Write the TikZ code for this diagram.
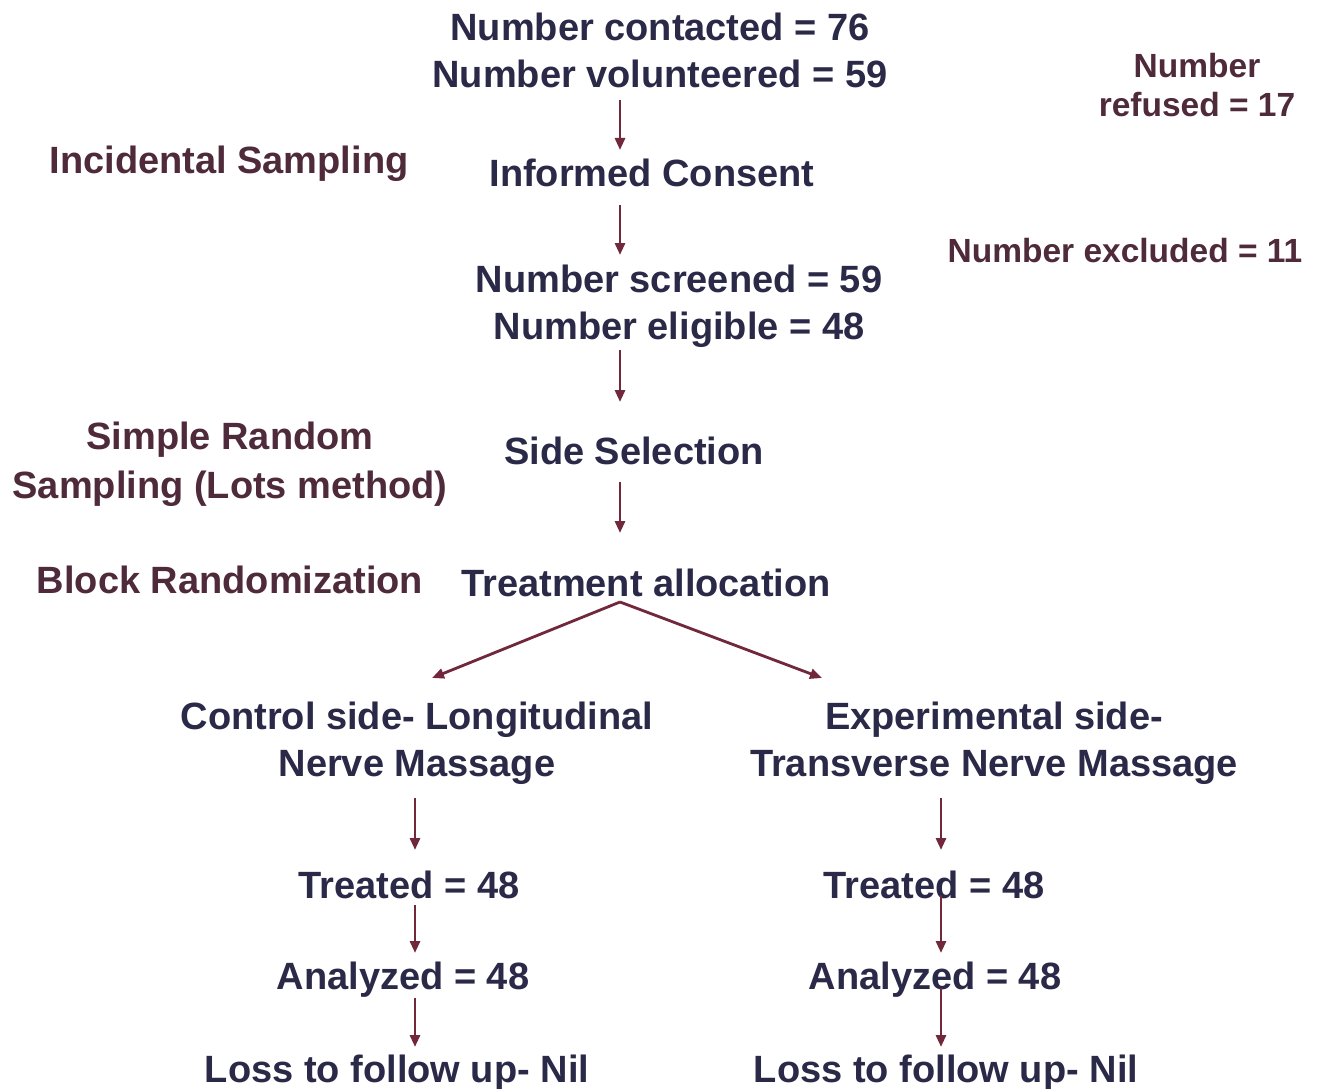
\documentclass[tikz,border=0pt]{standalone}
\usepackage{fontspec}
\setmainfont{Liberation Sans}
\usetikzlibrary{calc,arrows.meta}
\definecolor{maintext}{RGB}{42,42,72}
\definecolor{sidetext}{RGB}{78,42,58}
\definecolor{arrowcol}{RGB}{112,40,58}
\tikzset{
  flow/.style={anchor=base,inner sep=0pt,align=center,text=maintext,
    font=\bfseries\fontsize{38}{47}\selectfont},
  side/.style={anchor=base,inner sep=0pt,align=center,text=sidetext,
    font=\bfseries\fontsize{38}{49}\selectfont},
  sidesmall/.style={anchor=base,inner sep=0pt,align=center,text=sidetext,
    font=\bfseries\fontsize{33.5}{39.5}\selectfont},
  arr/.style={draw=arrowcol,line width=2.8pt,-{Triangle[length=12pt,width=10pt]}},
}
\begin{document}
\begin{tikzpicture}[x=1pt,y=-1pt]
\path[use as bounding box,fill=white] (0,0) rectangle (1317,1089);
\coordinate (axC) at (620,0);
\coordinate (axL) at (415,0);
\coordinate (axR) at (941,0);
% main column (base anchor = baseline of last line)
\node[flow] (top) at (660,88) {Number contacted = 76\\Number volunteered = 59};
\node[flow] (cons) at (652,186) {Informed Consent};
\node[flow] (scr) at (679,339) {Number screened = 59\\Number eligible = 48};
\node[flow] (sel) at (634,464) {Side Selection};
\node[flow] (alloc) at (646,596) {Treatment allocation};
\node[flow] (ctrl) at (417,776) {Control side- Longitudinal\\Nerve Massage};
\node[flow] (expt) at (994,776) {Experimental side-\\Transverse Nerve Massage};
\node[flow] (trL) at (409,898) {Treated = 48};
\node[flow] (anL) at (403,989) {Analyzed = 48};
\node[flow] (lossL) at (397,1082) {Loss to follow up- Nil};
\node[flow] (trR) at (934,898) {Treated = 48};
\node[flow] (anR) at (935,989) {Analyzed = 48};
\node[flow] (lossR) at (946,1082) {Loss to follow up- Nil};
% side labels
\node[side] (inc) at (229,173) {Incidental Sampling};
\node[side] (srs) at (230,498) {Simple Random\\Sampling (Lots method)};
\node[side] (blk) at (230,593) {Block Randomization};
\node[sidesmall] (ref) at (1197,117) {Number\\refused = 17};
\node[sidesmall] (exc) at (1125,262) {Number excluded = 11};
% connectors
\draw[arr] ($(top.base -| axC)+(0,12)$) -- ($(cons.base -| axC)+(0,-36)$);
\draw[arr] ($(cons.base -| axC)+(0,19)$) -- ($(scr.base -| axC)+(0,-84)$);
\draw[arr] ($(scr.base -| axC)+(0,11)$) -- ($(sel.base -| axC)+(0,-62)$);
\draw[arr] ($(sel.base -| axC)+(0,18)$) -- ($(alloc.base -| axC)+(0,-63)$);
\coordinate (apex) at ($(alloc.base -| axC)+(0,6)$);
\draw[arr] (apex) -- ($(ctrl.base)+(15,-98)$);
\draw[arr] (apex) -- ($(expt.base)+(-172,-98)$);
\draw[arr] ($(ctrl.base -| axL)+(0,22)$) -- ($(trL.base -| axL)+(0,-48)$);
\draw[arr] ($(trL.base -| axL)+(0,7)$) -- ($(anL.base -| axL)+(0,-36)$);
\draw[arr] ($(anL.base -| axL)+(0,9)$) -- ($(lossL.base -| axL)+(0,-35)$);
\draw[arr] ($(expt.base -| axR)+(0,22)$) -- ($(trR.base -| axR)+(0,-48)$);
\draw[arr] ($(trR.base -| axR)+(0,-3)$) -- ($(anR.base -| axR)+(0,-36)$);
\draw[arr] ($(anR.base -| axR)+(0,-1)$) -- ($(lossR.base -| axR)+(0,-35)$);
\end{tikzpicture}
\end{document}
